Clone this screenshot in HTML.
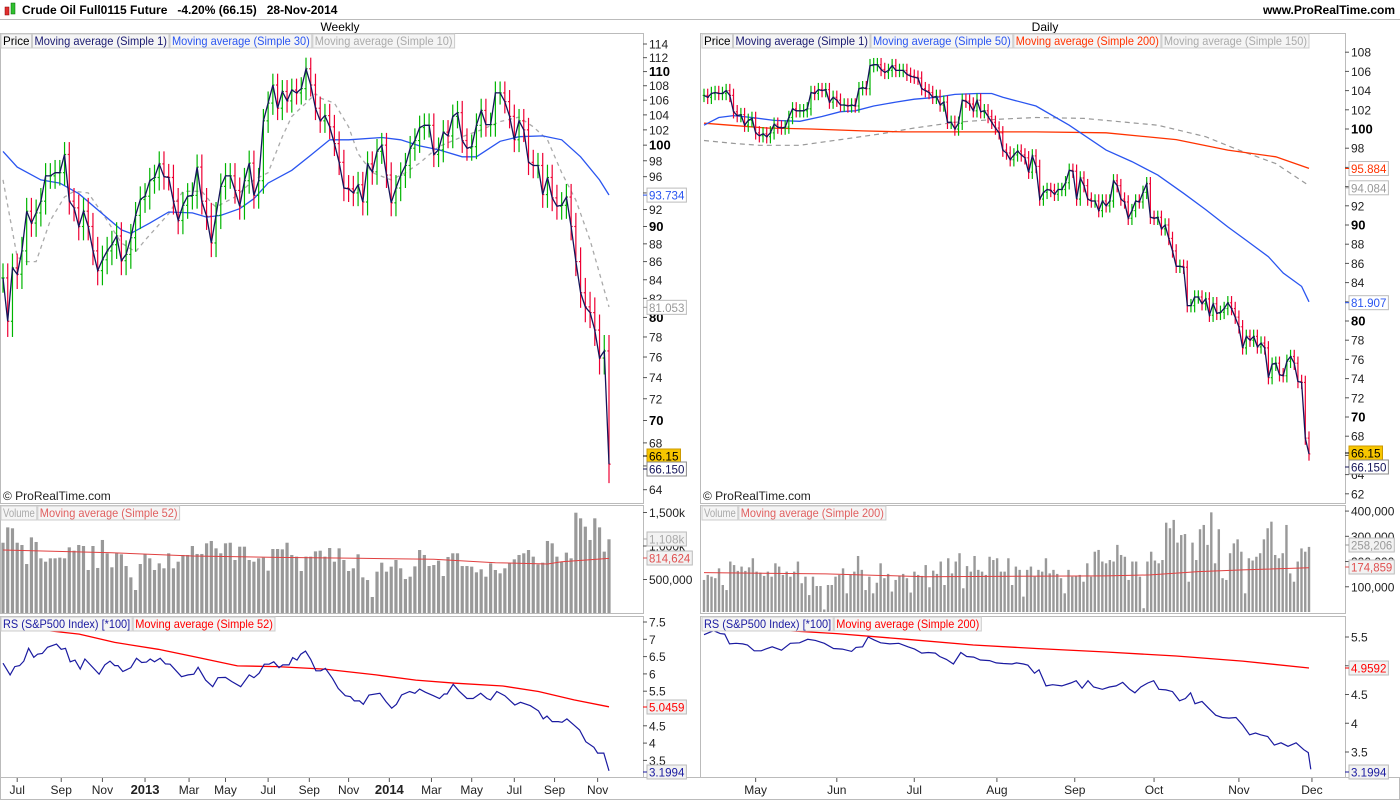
<!DOCTYPE html>
<html><head><meta charset="utf-8">
<style>
html,body{margin:0;padding:0;background:#fff;}
svg{display:block;font-family:"Liberation Sans",sans-serif;}
</style></head>
<body>
<svg id="chart" width="1400" height="800" viewBox="0 0 1400 800" xmlns="http://www.w3.org/2000/svg">
<defs>
<clipPath id="cLP"><rect x="0" y="48" width="643" height="455"/></clipPath>
<clipPath id="cRP"><rect x="701" y="48" width="644" height="455"/></clipPath>
<clipPath id="cLV"><rect x="0" y="505" width="643" height="108"/></clipPath>
<clipPath id="cRV"><rect x="701" y="505" width="644" height="108"/></clipPath>
<clipPath id="cLR"><rect x="0" y="617" width="643" height="160"/></clipPath>
<clipPath id="cRR"><rect x="701" y="617" width="644" height="160"/></clipPath>
</defs>
<rect x="0" y="0" width="1400" height="800" fill="#fff"/>
<g>
<rect x="5" y="7" width="4" height="8" fill="#e03030" stroke="#800" stroke-width="0.5"/>
<rect x="11" y="3" width="4" height="11" fill="#30c030" stroke="#060" stroke-width="0.5"/>
<text x="22" y="14" font-size="12" font-weight="bold" fill="#000" xml:space="preserve">Crude Oil Full0115 Future   -4.20% (66.15)   28-Nov-2014</text>
<text x="1395" y="14" font-size="12" font-weight="bold" fill="#000" text-anchor="end">www.ProRealTime.com</text>
</g>
<line x1="0" y1="19.5" x2="1400" y2="19.5" stroke="#bbb"/>
<text x="340" y="31" font-size="12" text-anchor="middle">Weekly</text>
<text x="1045" y="31" font-size="12" text-anchor="middle">Daily</text>
<g id="frames" fill="none" stroke="#bbb"></g>
<g id="plot"></g>
</svg>
<script>
// ---------------- Weekly data ----------------
const wClose=[84.2,79.6,85.3,84.6,87.2,91.8,90.4,91.6,93,96.1,96.1,96.5,96.5,98.8,93,92.2,90,91.8,90,87.2,85,86.2,87.2,87.9,88.9,86.1,86.8,88.7,91.3,93.2,93.6,95.5,95.9,97.6,96,95.9,93,90.7,92.5,93.6,93.7,97.2,93,91.2,88.1,91.3,94.8,96.1,96.1,94.3,92.4,95.5,97.7,93.7,95.5,103.2,105.6,108.1,104.9,107.2,105.9,107.4,107,107.6,110.4,108.1,104.9,103.2,103.9,102.4,100.2,97.8,94.6,94.5,94,95,92.9,97.6,96.6,99.2,100,96.2,92.8,94.6,96.2,97.4,99.6,100.6,102.3,102.6,102.6,98.8,99.4,101.7,101.2,103.8,104.3,100.6,99.6,99.8,102.6,104.6,102.7,102.7,107,107,105.8,103.8,100.7,103.2,102,97.8,97.4,97.4,93.8,95.9,93.4,92.4,92.5,93.5,90,86,82.6,81.1,80.5,78.7,75.9,76.6,66.15];
const wMa30Idx=[0,3,8,12,16,21,25,27,31,35,40,43,46,50,53,56,61,65,69,73,80,84,88,92,97,100,105,109,114,118,122,126,128];
const wMa30Val=[99.2,97.2,95.6,95.2,93.9,91.5,89.6,89.2,90.4,91.7,91.6,91.1,91.3,92.1,93.3,95.2,96.8,98.7,100.7,100.7,101,100.7,99.9,99.4,98.5,98.5,100.5,101.1,101.2,100.7,98.5,95.6,93.75];
const wMa10Idx=[0,3,5,7,10,13,15,18,22,25,28,30,35,38,42,44,45,49,53,56,59,61,64,66,67,70,73,75,78,82,85,88,92,97,101,105,109,112,115,118,121,124,126,128];
const wMa10Val=[95.6,86.5,86,86,90.7,93.5,94.2,94,90.7,88.1,87.1,88.4,91.5,94.2,94.2,92.8,92.3,93.5,95.6,96.5,101.1,103.8,105.6,106.9,106.3,105.6,102.4,98.9,96.5,95.6,96.5,97.7,99.8,101.1,102,103.1,103.7,102.4,100.7,96.5,93.1,88.4,84.7,81.1];
const wVol=[1049,1278,1264,1049,1015,731,1129,1060,816,766,816,816,826,816,980,930,1015,1000,642,1000,672,1090,891,682,891,876,701,532,343,731,876,816,642,741,667,891,667,766,866,866,1000,881,881,1040,1075,965,891,1040,1049,791,990,990,791,766,816,826,632,955,955,950,1049,866,841,627,841,841,920,930,841,970,766,965,791,627,667,876,532,492,239,617,751,617,692,791,667,507,542,696,940,866,701,716,781,552,836,891,891,701,701,692,607,652,542,741,642,592,667,741,801,866,891,940,841,726,751,1075,1040,841,766,901,816,1497,1413,1289,1090,1413,1278,916,1100];
const wVolMaIdx=[0,23,40,58,75,91,104,115,118,128];
const wVolMaVal=[940,900,850,830,816,801,751,731,766,815];
const wRsIdx=[0,1.5,2.5,3.5,4.4,5.4,6.5,7.3,8.3,9.4,11.3,12.3,13.2,14.2,15.2,16.3,17.3,20.3,21.5,22.6,23.6,24.3,25.3,27,28.2,29.3,30.3,31.1,32,33.2,34.3,35.3,37.7,39.1,40.3,41.2,42.8,44.3,45.4,47,48.3,50.2,52,53,54.1,55.2,56.2,57.2,58.3,59.1,60.4,61.2,62.1,62.9,63.9,65,66.1,67.1,68.1,69.6,70.8,72.3,73.4,74.2,75.3,76.1,77.3,79.6,80.9,82.1,83.1,84.2,85.9,87,88,89.2,90.9,92.2,93.2,93.8,95.1,96.3,98,99.3,100.9,102.2,103,104.3,106,108.1,109.3,111.4,113.1,114.1,114.9,116,117.3,118.1,119.1,120.6,121.8,123.1,124.8,125.6,126.9,128];
const wRsVal=[6.31,5.97,6.21,6.24,6.37,6.74,6.48,6.57,6.59,6.77,6.86,6.71,6.74,6.35,6.4,6.14,6.43,5.99,6.26,6.37,6.24,6.24,6.07,6.18,6.45,6.33,6.34,6.43,6.35,6.45,6.29,6.28,5.92,5.97,5.99,6.19,5.82,5.63,5.89,5.9,5.78,5.63,5.97,5.89,6.02,6.28,6.28,6.35,6.18,6.26,6.26,6.47,6.4,6.57,6.66,6.42,6.09,6.09,6.16,5.87,5.58,5.37,5.34,5.22,5.22,5.12,5.39,5.44,5.2,5.01,5.12,5.39,5.49,5.44,5.56,5.47,5.37,5.29,5.42,5.42,5.7,5.51,5.29,5.29,5.44,5.29,5.25,5.49,5.37,5.1,5.18,5.08,4.93,4.7,4.78,4.62,4.62,4.6,4.7,4.52,4.38,4.04,3.88,3.71,3.71,3.2];
const wRsMaIdx=[9.4,16.1,23.6,32.8,40.3,49.5,57.9,67.9,78.8,87.2,95.5,105.6,113.1,120.6,128];
const wRsMaVal=[7.25,7.15,6.91,6.71,6.5,6.23,6.21,6.14,5.97,5.82,5.73,5.65,5.49,5.25,5.05];
const wTickLabels=["Jul","Sep","Nov","2013","Mar","May","Jul","Sep","Nov","2014","Mar","May","Jul","Sep","Nov"];
const wTickIdx=[3,12.3,21,30,39.3,47,56,64.7,73,81.6,90.5,99,108,116.5,125.6];

// ---------------- Daily data ----------------
const dClose=[103.5,103.3,103.7,103.8,103.7,103.7,104,103.5,101.8,101.4,101.5,100.4,100.9,101.1,99.6,99.3,99.5,99.2,99.6,100.5,100.2,100.1,100.2,101.2,102.1,101.9,101.9,101.9,102.1,103.8,103.7,104.1,104,104.1,102.8,103.3,103,102.5,102.5,102.4,102.5,102.4,104.2,104.3,104.2,106.6,106.7,106.7,106.2,105.9,106.1,106.6,106.1,106.1,106.1,105.7,105.5,105.4,105.3,104.2,104,103.8,103.3,103.4,102.5,102.8,100.7,100.7,100,100.6,103,102.9,102.6,101.9,103,101.8,101.9,101.3,100.7,100.1,99.6,97.8,97.5,96.8,97.3,97.7,97.3,97,95.5,97.2,96.1,92.7,93.4,93.7,93.6,93.2,93.7,93.7,94.4,95.7,95.6,92.7,94.9,94.1,92.7,92.5,92.5,91.5,92.5,92,92.5,94.6,94.1,92.7,92.4,90.7,91.5,92.5,92.4,93.4,94.3,90.8,90.7,90.8,89.6,90,88.6,87.3,85.7,85.7,85.6,81.6,81.6,82.5,82.5,81.8,82.3,80.6,81.8,80.8,80.9,81.3,81.9,81.3,80.4,79.4,77.2,78.4,78,78.4,77.3,77.7,77.2,74.1,75.5,75.6,74.4,74.3,75.8,76.3,75.6,73.7,73.6,67.8,66.15];
const dMa50Idx=[0,2,4,8,13,19,26,32,37,41,46,52,57,63,68,74,78,81,90,99,109,116,123,130,136,142,147,153,157,162,164];
const dMa50Val=[100.4,100.8,101.2,101.4,101.2,100.9,100.8,101.3,101.8,101.9,102.4,102.8,103.1,103.3,103.6,103.7,103.7,103.3,102.4,100.4,97.8,96.6,95.2,93.3,91.6,89.8,88.4,86.7,85,83.6,82];
const dMa200Idx=[0,7,17,29,43,54,72,90,109,128,142,155,161,164];
const dMa200Val=[100.6,100.4,100.1,100,99.8,99.7,99.7,99.7,99.6,98.9,97.8,97.1,96.3,95.9];
const dMa150Idx=[0,8,15,26,37,48,57,68,79,90,103,123,136,145,155,164];
const dMa150Val=[98.8,98.5,98.3,98.3,98.9,99.5,100.1,100.7,101,101.2,101.1,100.4,99.2,97.8,96.4,94.1];
const dVol=[127,147,140,134,173,107,87,200,186,163,180,163,177,213,160,156,143,160,140,193,180,147,160,140,160,200,114,140,67,140,103,103,10,107,107,140,147,173,74,147,160,222,167,87,140,74,116,193,134,151,81,127,143,151,134,77,160,147,143,186,98,164,151,200,107,213,153,200,233,94,182,160,222,167,160,147,219,206,213,160,160,213,107,180,167,61,167,180,140,167,160,213,153,167,151,134,74,167,140,143,147,120,193,140,239,246,200,193,206,200,266,226,219,127,200,200,140,15,200,239,204,193,206,354,332,365,275,305,309,120,275,206,328,345,266,395,193,328,134,127,233,272,288,239,74,213,204,219,233,288,332,358,226,213,233,345,153,120,200,252,239,258];
const dVolMaIdx=[0,33,60,109,121,134,146,164];
const dVolMaVal=[156,151,140,143,147,160,167,175];
const dRsIdx=[0,2.6,4.4,5.6,6.9,8.7,10.5,11.8,13.6,15.5,16.7,18.5,21,23.4,25.9,28.1,30.2,32.6,35.1,37.5,40,41.2,43,44.5,46.1,47.9,50.4,52.8,55.3,57.1,59,60.8,62.7,63.9,65.7,67.6,69.6,71.2,73.1,74.9,77.4,79.2,81.1,83.5,84.7,86.6,87.8,89.6,90.8,92.7,94.5,97,99.4,100.9,102.5,104.1,105.6,108,109.9,111.7,113.5,115.4,116.8,118.4,120.3,121.9,123.3,125.2,127,128.9,130.5,131.9,133.1,135,136.8,138.7,140.5,142.3,144.2,146,147.9,149.5,150.9,152.8,154.6,156.4,158.3,160.5,162.6,163.8,164.5];
const dRsVal=[5.54,5.61,5.56,5.55,5.38,5.39,5.38,5.36,5.26,5.26,5.29,5.33,5.27,5.39,5.4,5.46,5.44,5.39,5.3,5.29,5.25,5.32,5.33,5.5,5.45,5.4,5.38,5.39,5.33,5.29,5.22,5.23,5.22,5.16,5.11,5.03,5.23,5.16,5.15,5.1,5.09,5.05,5.04,5.03,5.05,5.03,5.01,4.87,4.93,4.65,4.67,4.65,4.7,4.74,4.61,4.74,4.63,4.59,4.63,4.65,4.71,4.59,4.53,4.63,4.7,4.74,4.59,4.58,4.55,4.39,4.43,4.53,4.34,4.38,4.26,4.14,4.1,4.09,4.1,3.97,3.8,3.83,3.8,3.77,3.62,3.66,3.6,3.66,3.54,3.49,3.2];
const dRsMaIdx=[20,36,55,73,90,109,128,146,164];
const dRsMaVal=[5.62,5.56,5.46,5.36,5.3,5.24,5.17,5.08,4.96];
const dTickLabels=["May","Jun","Jul","Aug","Sep","Oct","Nov","Dec"];
const dTickIdx=[14,36,57,79.4,100.5,122,145,164.8];

// ---------------- axis functions ----------------
const xL=i=>3+i*(606/(wClose.length-1));
const yL=v=>44+772*Math.log(114/v);
const xR=i=>704+i*(605/(dClose.length-1));
const yR=v=>129+(100-v)*9.6;
const yLV=k=>613-k*0.067;
const yRV=k=>612-k*0.2523;
const yLR=v=>622+(7.5-v)*34.6;
const yRR=v=>637+(5.5-v)*57.5;

const NS="http://www.w3.org/2000/svg";
const root=document.getElementById('plot');
const frames=document.getElementById('frames');
function mk(tag,attrs,parent){const e=document.createElementNS(NS,tag);for(const k in attrs)e.setAttribute(k,attrs[k]);(parent||root).appendChild(e);return e;}
function grp(clip){const g=mk('g',clip?{'clip-path':'url(#'+clip+')'}:{});return g;}

[[0.5,33.5,643,470],[0.5,505.5,643,108],[0.5,616.5,643,161],[700.5,33.5,645,470],[700.5,505.5,645,108],[700.5,616.5,645,161],[0.5,777.5,1399,22]].forEach((r,i)=>{
 const f=mk('rect',{x:r[0],y:r[1],width:r[2],height:r[3]},frames);
 
 
});

function polyline(g,xs,ys,style,name){
 let d='';for(let i=0;i<xs.length;i++)d+=(i?'L':'M')+xs[i].toFixed(1)+' '+ys[i].toFixed(1);
 const p=mk('path',Object.assign({d:d,fill:'none'},style),g);
 
 
 return p;
}
function bars(g,close,xf,yf,wick,tk,name){
 for(let i=0;i<close.length;i++){
  const o=i?close[i-1]:close[i], c=close[i];
  const up=c>=o, col=up?'#00b400':'#ee0033';
  const hi=Math.max(o,c)+wick, lo=Math.min(o,c)-wick, x=xf(i);
  const b=mk('g',{stroke:col,'stroke-width':1.2},g);
  
  
  mk('line',{x1:x,x2:x,y1:yf(hi),y2:yf(lo)},b);
  mk('line',{x1:x-tk,x2:x,y1:yf(o),y2:yf(o)},b);
  mk('line',{x1:x,x2:x+tk,y1:yf(c),y2:yf(c)},b);
 }
}
function volBars(g,vals,x0,x1,yf,w,name){
 for(let i=0;i<vals.length;i++){
  const x=x0+i*(x1-x0)/(vals.length-1);
  const r=mk('rect',{x:x-w/2,y:yf(vals[i]),width:w,height:Math.max(0,yf(0)-yf(vals[i])),fill:'#999'},g);
  
  
 }
}
function txt(s,x,y,attrs,name,parent){
 const t=mk('text',Object.assign({x:x,y:y,'font-size':12,fill:'#222'},attrs||{}),parent);
 t.textContent=s;
 
 
 return t;
}
function tag(s,x,y,col,bg,border,name){
 const g=mk('g',{});
 
 
 const tw=s.length*5.9;
 mk('rect',{x:x,y:y-7,width:tw+4,height:14,fill:bg,stroke:border},g);
 mk('line',{x1:x-4,x2:x,y1:y,y2:y,stroke:col},g);
 txt(s,x+2,y+4.5,{fill:col,textLength:tw,lengthAdjust:'spacingAndGlyphs'},name+'-text',g);
}
function legend(x,y,items,name){
 let cx=x;
 items.forEach(it=>{
  const tw=it[0].length*5.3;
  const w=tw+4;
  const g=mk('g',{});
  
  
  mk('rect',{x:cx,y:y,width:w,height:14,fill:'#f5f5f5',stroke:'#ccc'},g);
  txt(it[0],cx+2,y+11,{fill:it[1],textLength:tw,lengthAdjust:'spacingAndGlyphs'},'legend-label',g);
  cx+=w+1;
 });
}
function yTicks(vals,yf,x,bold,name){
 vals.forEach(v=>{
  const y=yf(v);
  const l=mk('line',{x1:x,x2:x+4,y1:y,y2:y,stroke:'#555'});
  
  
  const b=bold&&bold(v);
  txt(String(v),x+6,y+4.5,b?{'font-weight':'bold','font-size':13,fill:'#000'}:{},name);
 });
}

// ===== Left (weekly) =====
const gLP=grp('cLP');
polyline(gLP,wMa10Idx.map(xL),wMa10Val.map(yL),{stroke:'#aaa','stroke-width':1.3,'stroke-dasharray':'4,4'},'sma10-weekly');
polyline(gLP,wMa30Idx.map(xL),wMa30Val.map(yL),{stroke:'#2a55f0','stroke-width':1.3},'sma30-weekly');
bars(gLP,wClose,xL,yL,1.6,1.6,'weekly-bar');
polyline(gLP,wClose.map((v,i)=>xL(i)),wClose.map(yL),{stroke:'#14145a','stroke-width':1.3},'sma1-weekly');
legend(1,34,[["Price","#000"],["Moving average (Simple 1)","#1a1a70"],["Moving average (Simple 30)","#2a55f0"],["Moving average (Simple 10)","#aaa"]],'weekly-legend');
const lpT=[];for(let v=64;v<=114;v+=2)lpT.push(v);
yTicks(lpT,yL,643,v=>v%10===0,'weekly-price-tick');
txt('© ProRealTime.com',3,500,{},'copyright-left');

const gLV=grp('cLV');
volBars(gLV,wVol,xL(0),xL(wClose.length-1),yLV,3.2,'weekly-volume-bar');
polyline(gLV,wVolMaIdx.map(xL),wVolMaVal.map(yLV),{stroke:'#e04040','stroke-width':1},'weekly-volume-ma');
legend(1,506,[["Volume","#aaa"],["Moving average (Simple 52)","#e06060"]],'weekly-volume-legend');
[[1500,'1,500k'],[1000,'1,000k'],[500,'500,000']].forEach(t=>{const y=yLV(t[0]);mk('line',{x1:643,x2:647,y1:y,y2:y,stroke:'#555'});txt(t[1],649,y+4.5,{},'weekly-volume-tick');});

const gLR=grp('cLR');
polyline(gLR,wRsMaIdx.map(xL),wRsMaVal.map(yLR),{stroke:'#f00','stroke-width':1.3},'weekly-rs-ma');
polyline(gLR,wRsIdx.map(xL),wRsVal.map(yLR),{stroke:'#1a1aa0','stroke-width':1.2},'weekly-rs-line');
legend(1,617,[["RS (S&P500 Index) [*100]","#1a1aa0"],["Moving average (Simple 52)","#f00"]],'weekly-rs-legend');
yTicks([7.5,7,6.5,6,5.5,4.5,4,3.5],yLR,643,null,'weekly-rs-tick');
wTickLabels.forEach((s,i)=>{const x=xL(wTickIdx[i]);mk('line',{x1:x,x2:x,y1:778,y2:782,stroke:'#555'});txt(s,x,794,{'text-anchor':'middle','font-weight':(s.length===4?'bold':'normal'),'font-size':(s.length===4?13:12)},'weekly-x-label');});

tag('93.734',647,yL(93.734),'#2a55f0','#fff','#bbb','tag-sma30');
tag('81.053',647,yL(81.053),'#999','#fff','#bbb','tag-sma10');
tag('66.15',647,456,'#000','#f7c600','#c90','tag-last-price');
tag('66.150',647,469,'#14145a','#fff','#888','tag-sma1');
tag('1,108k',647,539,'#aaa','#f2f2f2','#bbb','tag-volume');
tag('814,624',647,558,'#e05050','#f2f2f2','#bbb','tag-volume-ma');
tag('5.0459',647,707,'#f00','#f2f2f2','#bbb','tag-rs-ma');
tag('3.1994',647,772,'#1a1aa0','#f2f2f2','#bbb','tag-rs');

// ===== Right (daily) =====
const gRP=grp('cRP');
polyline(gRP,dMa150Idx.map(xR),dMa150Val.map(yR),{stroke:'#999','stroke-width':1.2,'stroke-dasharray':'5,4'},'sma150-daily');
polyline(gRP,dMa200Idx.map(xR),dMa200Val.map(yR),{stroke:'#ff3300','stroke-width':1.3},'sma200-daily');
polyline(gRP,dMa50Idx.map(xR),dMa50Val.map(yR),{stroke:'#2a55f0','stroke-width':1.3},'sma50-daily');
bars(gRP,dClose,xR,yR,0.7,1.3,'daily-bar');
polyline(gRP,dClose.map((v,i)=>xR(i)),dClose.map(yR),{stroke:'#14145a','stroke-width':1.3},'sma1-daily');
legend(702,34,[["Price","#000"],["Moving average (Simple 1)","#1a1a70"],["Moving average (Simple 50)","#2a55f0"],["Moving average (Simple 200)","#ff3300"],["Moving average (Simple 150)","#aaa"]],'daily-legend');
const rpT=[];for(let v=62;v<=108;v+=2)rpT.push(v);
yTicks(rpT,yR,1345,v=>v%10===0,'daily-price-tick');
txt('© ProRealTime.com',703,500,{},'copyright-right');

const gRV=grp('cRV');
volBars(gRV,dVol,xR(0),xR(dClose.length-1),yRV,2.4,'daily-volume-bar');
polyline(gRV,dVolMaIdx.map(xR),dVolMaVal.map(yRV),{stroke:'#e04040','stroke-width':1},'daily-volume-ma');
legend(702,506,[["Volume","#aaa"],["Moving average (Simple 200)","#e06060"]],'daily-volume-legend');
[[400,'400,000'],[300,'300,000'],[200,'200,000'],[100,'100,000']].forEach(t=>{const y=yRV(t[0]);mk('line',{x1:1345,x2:1349,y1:y,y2:y,stroke:'#555'});txt(t[1],1351,y+4.5,{},'daily-volume-tick');});

const gRR=grp('cRR');
polyline(gRR,dRsMaIdx.map(xR),dRsMaVal.map(yRR),{stroke:'#f00','stroke-width':1.3},'daily-rs-ma');
polyline(gRR,dRsIdx.map(xR),dRsVal.map(yRR),{stroke:'#1a1aa0','stroke-width':1.2},'daily-rs-line');
legend(702,617,[["RS (S&P500 Index) [*100]","#1a1aa0"],["Moving average (Simple 200)","#f00"]],'daily-rs-legend');
yTicks([5.5,5,4.5,4,3.5],yRR,1345,null,'daily-rs-tick');
dTickLabels.forEach((s,i)=>{const x=xR(dTickIdx[i]);mk('line',{x1:x,x2:x,y1:778,y2:782,stroke:'#555'});txt(s,x,794,{'text-anchor':'middle'},'daily-x-label');});

tag('95.884',1349,yR(95.884),'#ff3300','#fff','#bbb','tag-sma200');
tag('94.084',1349,yR(94.084)+2,'#999','#fff','#bbb','tag-sma150');
tag('81.907',1349,yR(81.907),'#2a55f0','#fff','#bbb','tag-sma50');
tag('66.15',1349,453,'#000','#f7c600','#c90','tag-last-price-daily');
tag('66.150',1349,467,'#14145a','#fff','#888','tag-sma1-daily');
tag('258,206',1349,545,'#999','#f2f2f2','#bbb','tag-volume-daily');
tag('174,859',1349,567,'#e05050','#f2f2f2','#bbb','tag-volume-ma-daily');
tag('4.9592',1349,668,'#f00','#f2f2f2','#bbb','tag-rs-ma-daily');
tag('3.1994',1349,772,'#1a1aa0','#f2f2f2','#bbb','tag-rs-daily');
</script>
</body></html>
